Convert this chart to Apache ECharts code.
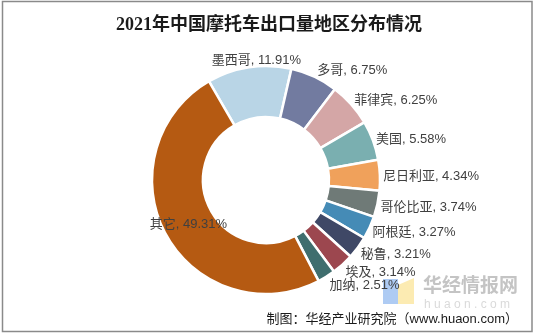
<!DOCTYPE html>
<html>
<head>
<meta charset="utf-8">
<script src="https://cdn.jsdelivr.net/npm/echarts@6/dist/echarts.min.js"></script>
<style>
html,body{margin:0;padding:0;background:#fff;}
#chart{width:538px;height:334px;}
</style>
</head>
<body>
<div id="chart"></div>
<script>
// ---- data ----
const categories = ['墨西哥', '多哥', '菲律宾', '美国', '尼日利亚', '哥伦比亚', '阿根廷', '秘鲁', '埃及', '加纳', '其它'];
const shares = [11.91, 6.75, 6.25, 5.58, 4.34, 3.74, 3.27, 3.21, 3.14, 2.51, 49.31];
const titleText = '2021年中国摩托车出口量地区分布情况';
const sourceText = '制图：华经产业研究院（www.huaon.com）';

// ---- styles / layout ----
const colors = ['#B9D5E6', '#727BA0', '#D4A6A6', '#7AAFB0', '#F0A15B', '#6F7A77', '#458BB6', '#3F4866', '#9C474F', '#3F6E6E', '#B55A12'];
const CX = 266, CY = 180, R_IN = 63, R_OUT = 114, START = 120;
const FONT = "'Liberation Sans','Noto Sans CJK SC',sans-serif";

const total = shares.reduce((a, b) => a + b, 0);
const chart = echarts.init(document.getElementById('chart'), null, {renderer: 'canvas'});

function labelLayout(p) {
  const i = p.dataIndex;
  let cum = 0;
  for (let k = 0; k < i; k++) cum += shares[k];
  const frac = shares[i] / total;
  const theta = ((90 - START) + 360 * (cum + shares[i] / 2) / total) * Math.PI / 180;
  const s = Math.sin(theta), c = Math.cos(theta);
  const w = p.labelRect.width, h = p.labelRect.height;
  if (frac > 0.25) {
    const r = (R_IN + R_OUT) / 2;
    return {x: CX + r * s, y: CY - r * c + 2, align: 'center', verticalAlign: 'middle'};
  }
  const px = CX + R_OUT * s, py = CY - R_OUT * c;
  const f = Math.max(-1, Math.min(1, 3 * s + 0.6));
  return {
    x: px + f * (w / 2 + 3),
    y: py - c * (h / 2 + 2) + 1.5,
    align: 'center', verticalAlign: 'middle'
  };
}

chart.setOption({
  animation: false,
  backgroundColor: '#fff',
  title: {
    text: titleText,
    left: 'center',
    top: 11,
    textStyle: {fontSize: 18, fontWeight: 'bold', color: '#1a1a1a', fontFamily: "'Liberation Serif','Noto Sans CJK SC',serif"}
  },
  graphic: [
    {type: 'rect', z: 100, silent: true, shape: {x: 2.5, y: 1.5, width: 529.5, height: 330}, style: {fill: 'none', stroke: '#8a8a8a', lineWidth: 1.5}},
    {type: 'rect', z: 0, shape: {x: 383, y: 279, width: 15, height: 25}, style: {fill: '#AECBF3'}},
    {type: 'polygon', z: 0, shape: {points: [[398, 285], [414, 278], [414, 304], [398, 304]]}, style: {fill: '#FCEBB2'}},
    {type: 'text', z: 0, style: {text: '华经情报网', x: 423, y: 275, fill: '#C4C4C4', font: "bold 19px 'Noto Sans CJK SC'"}},
    {type: 'text', z: 0, style: {text: 'h u a o n . c o m', x: 424, y: 299, fill: '#DADADA', font: "12px 'Liberation Sans'"}},
    {type: 'text', z: 5, style: {text: sourceText, x: 518, y: 319, align: 'right', verticalAlign: 'middle', fill: '#1a1a1a', font: "13px 'Liberation Sans','Noto Sans CJK SC'"}}
  ],
  series: [{
    type: 'pie',
    center: [CX, CY],
    radius: [R_IN, R_OUT],
    startAngle: START,
    clockwise: true,
    avoidLabelOverlap: false,
    itemStyle: {borderColor: '#fff', borderWidth: 2.5},
    label: {
      show: true,
      position: 'inside',
      color: '#404040',
      fontSize: 13,
      fontFamily: FONT,
      formatter: p => p.name + ', ' + p.value.toFixed(2) + '%'
    },
    labelLine: {show: false},
    labelLayout: labelLayout,
    emphasis: {disabled: true},
    data: categories.map((n, i) => ({name: n, value: shares[i], itemStyle: {color: colors[i]}}))
  }]
});
</script>
</body>
</html>
